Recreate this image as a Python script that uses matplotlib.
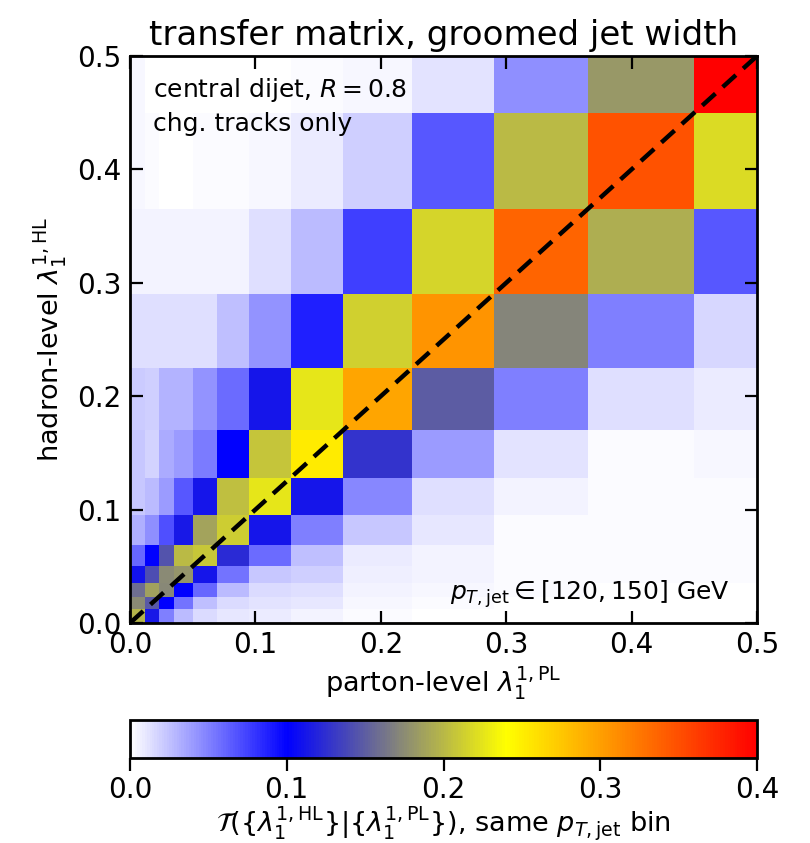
import numpy as np
import matplotlib
matplotlib.use("Agg")
import matplotlib.pyplot as plt
from matplotlib.colors import LinearSegmentedColormap

# bin edges (same for parton- and hadron-level)
bin_edges = [0.0, 0.012, 0.023, 0.035, 0.05, 0.069, 0.095, 0.128, 0.17,
             0.225, 0.29, 0.365, 0.45, 0.5]

# transfer matrix values, rows = hadron-level bins (bottom -> top),
# columns = parton-level bins (left -> right)
row_0 = [0.197, 0.114, 0.050, 0.028, 0.015, 0.010, 0.008, 0.005, 0.002, 0.001, 0.001, 0.001, 0.001]
row_1 = [0.175, 0.148, 0.100, 0.055, 0.025, 0.015, 0.012, 0.010, 0.004, 0.002, 0.001, 0.001, 0.001]
row_2 = [0.158, 0.187, 0.172, 0.100, 0.060, 0.028, 0.015, 0.014, 0.005, 0.004, 0.002, 0.001, 0.001]
row_3 = [0.110, 0.141, 0.175, 0.180, 0.111, 0.055, 0.022, 0.019, 0.007, 0.005, 0.002, 0.002, 0.002]
row_4 = [0.060, 0.100, 0.145, 0.200, 0.208, 0.123, 0.058, 0.025, 0.008, 0.006, 0.002, 0.002, 0.002]
row_5 = [0.032, 0.045, 0.070, 0.114, 0.189, 0.211, 0.111, 0.050, 0.023, 0.010, 0.003, 0.002, 0.002]
row_6 = [0.022, 0.028, 0.040, 0.067, 0.111, 0.204, 0.226, 0.111, 0.048, 0.014, 0.005, 0.003, 0.003]
row_7 = [0.022, 0.018, 0.033, 0.040, 0.053, 0.100, 0.207, 0.253, 0.127, 0.040, 0.012, 0.003, 0.004]
row_8 = [0.021, 0.020, 0.030, 0.030, 0.043, 0.058, 0.111, 0.226, 0.296, 0.149, 0.050, 0.014, 0.008]
row_9 = [0.013, 0.013, 0.013, 0.013, 0.014, 0.025, 0.043, 0.088, 0.214, 0.307, 0.171, 0.050, 0.016]
row_10 = [0.006, 0.005, 0.005, 0.005, 0.005, 0.005, 0.014, 0.028, 0.076, 0.217, 0.336, 0.195, 0.067]
row_11 = [0.004, 0.003, 0.000, 0.000, 0.003, 0.003, 0.004, 0.009, 0.019, 0.067, 0.200, 0.347, 0.220]
row_12 = [0.004, 0.001, 0.001, 0.001, 0.001, 0.001, 0.001, 0.003, 0.004, 0.012, 0.045, 0.182, 0.400]

matrix = np.array([row_0, row_1, row_2, row_3, row_4, row_5, row_6,
                   row_7, row_8, row_9, row_10, row_11, row_12])

cbar_ticks = [0.0, 0.1, 0.2, 0.3, 0.4]
axis_ticks = [0.0, 0.1, 0.2, 0.3, 0.4, 0.5]

cmap = LinearSegmentedColormap.from_list(
    "tm", [(0.0, (1.0, 1.0, 1.0)), (0.25, (0.0, 0.0, 1.0)),
           (0.42, (0.5, 0.5, 0.5)), (0.6, (1.0, 1.0, 0.0)),
           (1.0, (1.0, 0.0, 0.0))])

plt.rcParams['font.family'] = ['DejaVu Sans']
plt.rcParams['mathtext.fontset'] = 'dejavusans'

fig = plt.figure(figsize=(8.1, 8.43), dpi=100)
ax = fig.add_axes([130/810, 1 - 623/843, 627/810, 567/843])
cax = fig.add_axes([130/810, 1 - 758/843, 627/810, 38/843])

edges = np.array(bin_edges)
mesh = ax.pcolormesh(edges, edges, matrix, cmap=cmap, vmin=0, vmax=0.4,
                     shading='flat', rasterized=True)
ax.plot([0, 0.5], [0, 0.5], color='black', ls='--', lw=3.2, dashes=(4, 2.2))

ax.set_xlim(0, 0.5)
ax.set_ylim(0, 0.5)
ax.set_xticks(axis_ticks)
ax.set_yticks(axis_ticks)
ax.set_xticklabels([f"{t:.1f}" for t in axis_ticks])
ax.set_yticklabels([f"{t:.1f}" for t in axis_ticks])
ax.tick_params(direction='in', top=True, right=True, length=9, width=1.6,
               labelsize=20, pad=6)
for s in ax.spines.values():
    s.set_linewidth(2)

ax.set_title("transfer matrix, groomed jet width", fontsize=24.5, pad=8)
ax.set_xlabel(r"parton-level $\lambda_1^{1,\mathrm{PL}}$", fontsize=19.5, labelpad=4)
ax.set_ylabel(r"hadron-level $\lambda_1^{1,\mathrm{HL}}$", fontsize=19.5, labelpad=6)

ax.text(0.037, 0.94, r"central dijet, $R=0.8$", transform=ax.transAxes,
        fontsize=18, va='center', ha='left')
ax.text(0.037, 0.88, "chg. tracks only", transform=ax.transAxes,
        fontsize=18, va='center', ha='left')
ax.text(0.957, 0.05, r"$p_{T,\mathrm{jet}} \in [120, 150]$ GeV",
        transform=ax.transAxes, fontsize=18, va='center', ha='right')

cb = fig.colorbar(mesh, cax=cax, orientation='horizontal')
cb.set_ticks(cbar_ticks)
cb.set_ticklabels([f"{t:.1f}" for t in cbar_ticks])
cb.ax.tick_params(direction='out', length=9, width=1.6, labelsize=20, pad=4)
cb.outline.set_linewidth(2)
fig.text(443/810, 1 - 824/843,
         r"$\mathcal{T}(\{\lambda_1^{1,\mathrm{HL}}\}|\{\lambda_1^{1,\mathrm{PL}}\})$, same $p_{T,\mathrm{jet}}$ bin",
         fontsize=19.5, ha='center', va='center')

fig.savefig("out.png", dpi=100)
